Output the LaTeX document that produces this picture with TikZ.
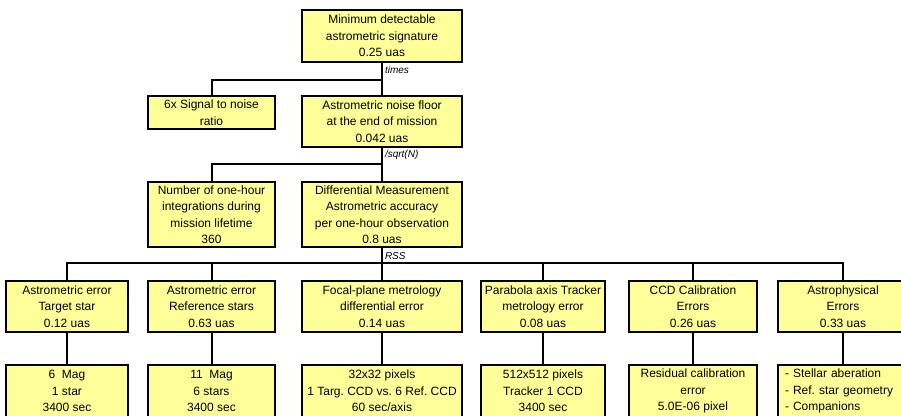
\documentclass[tikz,border=0pt]{standalone}
\usepackage{fontspec}
\setmainfont{Liberation Sans}
\usetikzlibrary{positioning}
\usepackage{xcolor}
\definecolor{boxyellow}{HTML}{FFFF99}
\frenchspacing

\begin{document}
\begin{tikzpicture}[x=1pt, y=-1pt, line width=2pt,
        every node/.style={font=\fontsize{12}{16.5}\selectfont},
        b/.style={draw, fill=boxyellow, align=center, inner sep=0pt, minimum width=#1},
        lbl/.style={font=\fontsize{10}{12}\selectfont\itshape, anchor=west, inner sep=0pt}]
            \useasboundingbox (0,0) rectangle (901,415);
            \clip (0,0) rectangle (901,415);

            \node[b=160, minimum height=52] (min) at (382, 36) {Minimum detectable\\astrometric signature\\0.25 uas};
            \node[b=127, minimum height=33] (snr) at (211.5, 112.5) {6x Signal to noise\\ratio};
            \node[b=160, minimum height=51] (floor) at (382, 121.5) {Astrometric noise floor\\at the end of mission\\0.042 uas};
            \node[b=127, minimum height=65] (nint) at (211.5, 214.5) {Number of one-hour\\integrations during\\mission lifetime\\360};
            \node[b=160, minimum height=65] (diff) at (382, 214.5) {Differential Measurement\\Astrometric accuracy\\per one-hour observation\\0.8 uas};

            \node[b=122, minimum height=51] (tgt) at (67, 306.5) {Astrometric error\\Target star\\0.12 uas};
            \node[b=127, minimum height=51] (ref) at (211.5, 306.5) {Astrometric error\\Reference stars\\0.63 uas};
            \node[b=160, minimum height=51] (fpm) at (382, 306.5) {Focal-plane metrology\\differential error\\0.14 uas};
            \node[b=124, minimum height=51] (pat) at (543, 306.5) {Parabola axis Tracker\\metrology error\\0.08 uas};
            \node[b=128, minimum height=51] (ccd) at (693, 306.5) {CCD Calibration\\Errors\\0.26 uas};
            \node[b=130, minimum height=51] (ast) at (843, 306.5) {Astrophysical\\Errors\\0.33 uas};

            \node[b=122, minimum height=52] (tgtv) at (67, 391) {6~~Mag\\1 star\\3400 sec};
            \node[b=127, minimum height=52] (refv) at (211.5, 391) {11~~Mag\\6 stars\\3400 sec};
            \node[b=160, minimum height=52] (fpmv) at (382, 391) {32x32 pixels\\1 Targ. CCD vs. 6 Ref. CCD\\60 sec/axis};
            \node[b=124, minimum height=52] (patv) at (543, 391) {512x512 pixels\\Tracker 1 CCD\\3400 sec};
            \node[b=128, minimum height=52] (ccdv) at (693, 391) {Residual calibration\\error\\5.0E-06 pixel};
            \node[b=130, minimum height=52, align=left, text width=116pt, inner xsep=7pt] (astv) at (843, 391) {- Stellar aberation\\- Ref. star geometry\\- Companions};

            \coordinate (j1) at (382, 80);
            \coordinate (j2) at (382, 164);
            \coordinate (j3) at (382, 263);

            \draw (min) edge (floor);
            \draw (j1) -| (snr.north);
            \draw (floor) edge (diff);
            \draw (j2) -| (nint.north);
            \draw (diff) edge (fpm);
            \draw (tgt.north) |- (j3) -| (ast.north);
            \draw (j3 -| ref.north) -- (ref.north);
            \draw (j3 -| pat.north) -- (pat.north);
            \draw (j3 -| ccd.north) -- (ccd.north);

            \draw (tgt) edge (tgtv);
            \draw (ref) edge (refv);
            \draw (fpm) edge (fpmv);
            \draw (pat) edge (patv);
            \draw (ccd) edge (ccdv);
            \draw (ast) edge (astv);

            \node[lbl] (times) at (384, 70) {times};
            \node[lbl] (sqrtn) at (384, 155) {/sqrt(N)};
            \node[lbl] (rss) at (384, 256) {RSS};
        \end{tikzpicture}
\end{document}
